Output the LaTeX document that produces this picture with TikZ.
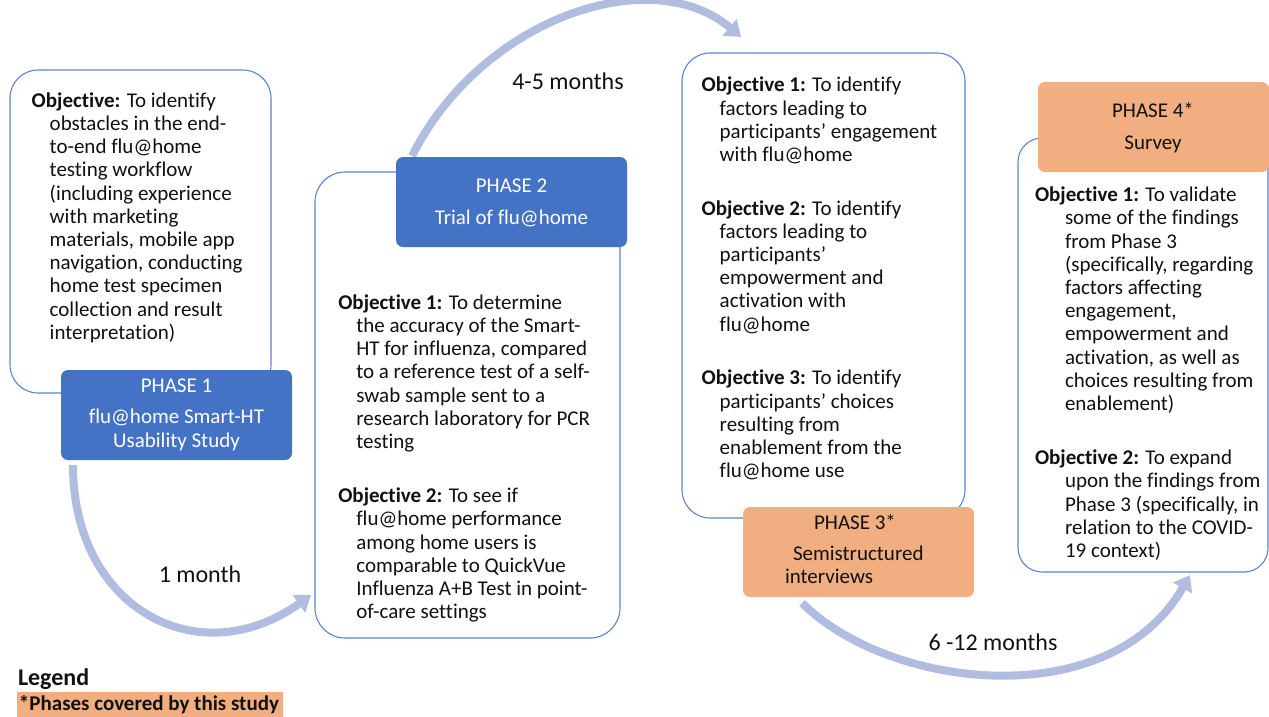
\documentclass[tikz,border=0pt]{standalone}
\usepackage{fontspec}
\setmainfont{Carlito}[Ligatures=NoCommon]
\usetikzlibrary{arrows.meta}

\definecolor{phaseblue}{HTML}{4472C4}
\definecolor{phaseorange}{HTML}{F1AE80}
\definecolor{frameblue}{HTML}{5B84D0}
\definecolor{flowarrow}{HTML}{B0BCE0}
\definecolor{inktext}{HTML}{111111}

\begin{document}
\begin{tikzpicture}[x=1pt,y=-1pt,
  every node/.style={inner sep=0pt, outer sep=0pt},
  txt/.style={font=\fontsize{21}{23.2}\selectfont, text=inktext},
  bigtxt/.style={font=\fontsize{24}{28}\selectfont, text=inktext},
  objbox/.style={draw=frameblue, line width=1.1pt, fill=white, anchor=north west},
  phasebox/.style={rounded corners=7pt, anchor=north west, minimum width=231pt, minimum height=90pt},
  objtext/.style={txt, align=left, anchor=north west},
  captext/.style={txt, anchor=base},
  flow/.style={draw=flowarrow, line width=8pt, -{Triangle[length=15pt,width=21pt]}}
]
\useasboundingbox (0,0) rectangle (1269,716);

% connector end points
\coordinate (a1s) at (73,465);
\coordinate (a1e) at (311,595);
\coordinate (a2s) at (412,156);
\coordinate (a2e) at (741,37);
\coordinate (a3s) at (802,603);
\coordinate (a3e) at (1190,575);

% timeline arrows between the phases
\draw[flow] (a1s) .. controls (73,610) and (200,675) .. (a1e);
\draw[flow] (a2s) .. controls (480,20) and (650,-40) .. (a2e);
\draw[flow] (a3s) .. controls (890,690) and (1110,715) .. (a3e);

\node[bigtxt, anchor=base] (t1) at (200,582.7) {1 month};
\node[bigtxt, anchor=base] (t2) at (568,89.3) {4-5 months};
\node[bigtxt, anchor=base] (t3) at (993,650) {6 -12 months};

% objective frames
\node[objbox, rounded corners=28pt, minimum width=261pt, minimum height=323pt] (box1) at (10,70) {};
\node[objbox, rounded corners=30pt, minimum width=305pt, minimum height=466pt] (box2) at (315,172) {};
\node[objbox, rounded corners=28pt, minimum width=283pt, minimum height=465pt] (box3) at (682,53) {};
\node[objbox, rounded corners=24pt, minimum width=250pt, minimum height=434pt] (box4) at (1018,138) {};

% phase headers
\node[phasebox, fill=phaseblue] (ph1) at (61,370) {};
\node[captext, text=white] (ph1a) at (176.5,392.3) {PHASE 1};
\node[captext, text=white] (ph1b) at (176.5,423.3) {flu@home Smart-HT};
\node[captext, text=white] (ph1c) at (176.5,447.8) {Usability Study};

\node[phasebox, fill=phaseblue] (ph2) at (396,157) {};
\node[captext, text=white] (ph2a) at (511.5,192.7) {PHASE 2};
\node[captext, text=white] (ph2b) at (511.5,224) {Trial of flu@home};

\node[phasebox, fill=phaseorange] (ph3) at (743,507) {};
\node[captext] (ph3a) at (855,529.3) {PHASE 3*};
\node[txt, anchor=base west] (ph3b) at (793,560) {Semistructured};
\node[txt, anchor=base west] (ph3c) at (785,583.3) {interviews};

\node[phasebox, fill=phaseorange] (ph4) at (1038,82) {};
\node[captext] (ph4a) at (1153,117.7) {PHASE 4*};
\node[captext] (ph4b) at (1153,149) {Survey};

% objective texts (first baseline = top + 20pt)
\node[objtext] (o1) at (31.7,87.3) {\rule{0pt}{20pt}\textbf{Objective:} To identify\\
\hspace*{18pt}obstacles in the end-\\
\hspace*{18pt}to-end flu@home\\
\hspace*{18pt}testing workflow\\
\hspace*{18pt}(including experience\\
\hspace*{18pt}with marketing\\
\hspace*{18pt}materials, mobile app\\
\hspace*{18pt}navigation, conducting\\
\hspace*{18pt}home test specimen\\
\hspace*{18pt}collection and result\\
\hspace*{18pt}interpretation)};

\node[objtext] (o2) at (338.3,289.3) {\rule{0pt}{20pt}\textbf{Objective 1:} To determine\\
\hspace*{18pt}the accuracy of the Smart-\\
\hspace*{18pt}HT for influenza, compared\\
\hspace*{18pt}to a reference test of a self-\\
\hspace*{18pt}swab sample sent to a\\
\hspace*{18pt}research laboratory for PCR\\
\hspace*{18pt}testing\\[31pt]
\textbf{Objective 2:} To see if\\
\hspace*{18pt}flu@home performance\\
\hspace*{18pt}among home users is\\
\hspace*{18pt}comparable to QuickVue\\
\hspace*{18pt}Influenza A+B Test in point-\\
\hspace*{18pt}of-care settings};

\node[objtext] (o3) at (701.7,71.8) {\rule{0pt}{20pt}\textbf{Objective 1:} To identify\\
\hspace*{18pt}factors leading to\\
\hspace*{18pt}participants’ engagement\\
\hspace*{18pt}with flu@home\\[30.5pt]
\textbf{Objective 2:} To identify\\
\hspace*{18pt}factors leading to\\
\hspace*{18pt}participants’\\
\hspace*{18pt}empowerment and\\
\hspace*{18pt}activation with\\
\hspace*{18pt}flu@home\\[30.5pt]
\textbf{Objective 3:} To identify\\
\hspace*{18pt}participants’ choices\\
\hspace*{18pt}resulting from\\
\hspace*{18pt}enablement from the\\
\hspace*{18pt}flu@home use};

\node[objtext] (o4) at (1035,181.7) {\rule{0pt}{20pt}\textbf{Objective 1:} To validate\\
\hspace*{30pt}some of the findings\\
\hspace*{30pt}from Phase 3\\
\hspace*{30pt}(specifically, regarding\\
\hspace*{30pt}factors affecting\\
\hspace*{30pt}engagement,\\
\hspace*{30pt}empowerment and\\
\hspace*{30pt}activation, as well as\\
\hspace*{30pt}choices resulting from\\
\hspace*{30pt}enablement)\\[31pt]
\textbf{Objective 2:} To expand\\
\hspace*{30pt}upon the findings from\\
\hspace*{30pt}Phase 3 (specifically, in\\
\hspace*{30pt}relation to the COVID-\\
\hspace*{30pt}19 context)};

% legend
\node[bigtxt, font=\fontsize{24}{28}\selectfont\bfseries, anchor=base west] (lg) at (18,685) {Legend};
\node[fill=phaseorange, anchor=north west, minimum width=266pt, minimum height=26pt] (lgband) at (17,692) {};
\node[txt, font=\fontsize{21}{23.2}\selectfont\bfseries, anchor=base west] (lgtext) at (19,710) {*Phases covered by this study};
\end{tikzpicture}
\end{document}
